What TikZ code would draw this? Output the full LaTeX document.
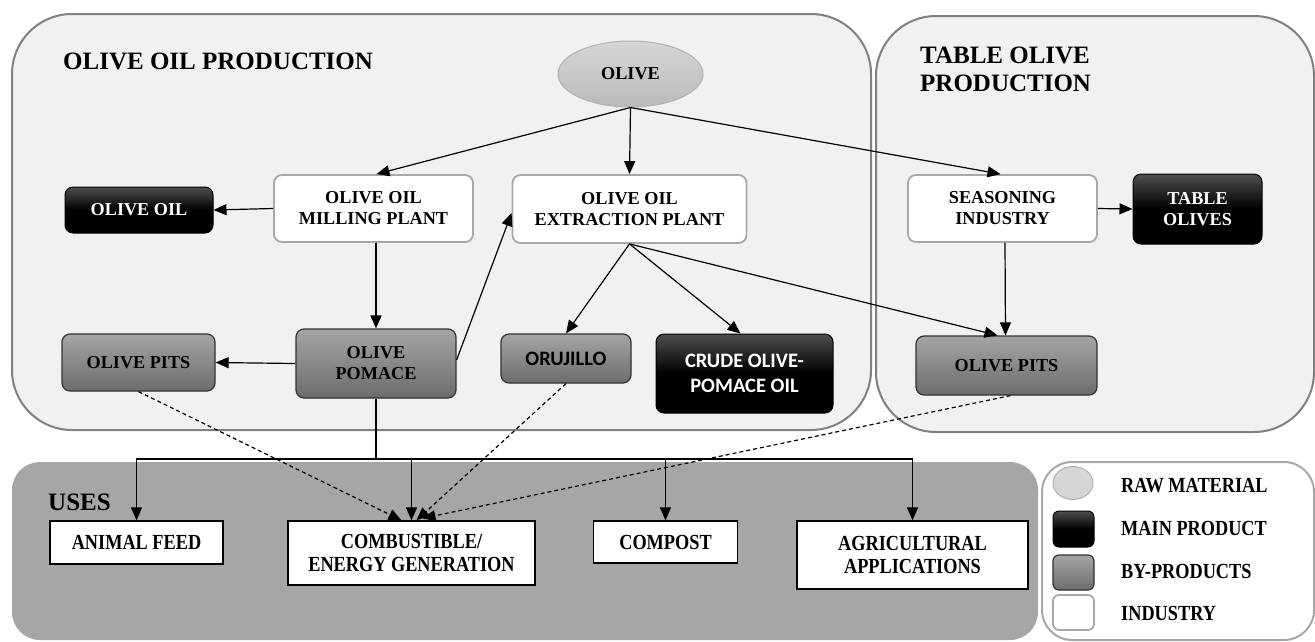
\documentclass[tikz,border=0pt]{standalone}
\usepackage{fontspec}
\setmainfont{Liberation Serif}
\newfontfamily\condserif[FakeStretch=0.85]{Liberation Serif}
\newfontfamily\carlitof{Carlito}
\usetikzlibrary{arrows.meta,shapes.geometric}
\definecolor{contfill}{RGB}{241,241,241}
\definecolor{contdraw}{RGB}{128,128,128}
\definecolor{usesfill}{RGB}{166,166,166}
\definecolor{indgray}{RGB}{168,168,168}
\definecolor{maintop}{RGB}{78,78,78}
\definecolor{bytop}{RGB}{165,165,165}
\definecolor{bybot}{RGB}{108,108,108}
\definecolor{bydraw}{RGB}{50,50,50}
\definecolor{rawtop}{RGB}{214,214,214}
\definecolor{rawbot}{RGB}{186,186,186}
\definecolor{rawdraw}{RGB}{176,176,176}
\newcommand{\boxfnt}{\bfseries\fontsize{18.2}{21}\selectfont}
\newcommand{\sansfnt}{\carlitof\bfseries\fontsize{20.5}{25}\selectfont}
\newcommand{\usefnt}{\condserif\bfseries\fontsize{21.5}{23}\selectfont}
\newcommand{\titlefnt}{\bfseries\fontsize{25}{28}\selectfont}
\tikzset{
  ind/.style={draw=indgray, line width=1.8pt, fill=white, rounded corners=8pt, align=center, font=\boxfnt, inner sep=0pt},
  mainp/.style={draw=black, line width=1pt, top color=maintop, bottom color=black, middle color=black, rounded corners=8pt, align=center, text=white, font=\boxfnt, inner sep=0pt},
  byp/.style={draw=bydraw, line width=1.2pt, top color=bytop, bottom color=bybot, rounded corners=8pt, align=center, font=\boxfnt, inner sep=0pt},
  usebox/.style={draw=black, line width=1.3pt, fill=white, align=center, font=\usefnt, inner sep=0pt},
  arr/.style={line width=1.2pt, -{Triangle[length=13pt,width=11pt]}},
  dasharr/.style={line width=1.2pt, dash pattern=on 4pt off 3pt, -{Triangle[length=13pt,width=11pt]}},
  legtext/.style={anchor=west, font=\usefnt, inner sep=0pt},
  titletext/.style={font=\titlefnt, inner sep=0pt, align=left}
}
\begin{document}
\begin{tikzpicture}[x=1pt,y=-1pt]
\useasboundingbox (0,0) rectangle (1315,641);
% containers
\draw[fill=contfill, draw=contdraw, line width=2pt, rounded corners=60pt] (12,14) rectangle (871,430);
\draw[fill=contfill, draw=contdraw, line width=2pt, rounded corners=60pt] (876,16) rectangle (1314,432);
\fill[usesfill, rounded corners=28pt] (12,462) rectangle (1038,640);
\draw[fill=white, draw=indgray, line width=2pt, rounded corners=30pt] (1042,462) rectangle (1314,640);

% titles
\node[titletext, anchor=west] (t1) at (63,61) {OLIVE OIL PRODUCTION};
\node[titletext, anchor=west] (t2) at (920,69) {TABLE OLIVE\\PRODUCTION};
\node[titletext, anchor=west] (t3) at (48,502) {USES};

% nodes
\node[ellipse, draw=rawdraw, line width=1pt, top color=rawtop, bottom color=rawbot, minimum width=145pt, minimum height=66pt, font=\boxfnt, inner sep=0pt] (olive) at (630.5,74) {OLIVE};
\node[ind, minimum width=199pt, minimum height=67pt] (mill) at (373.5,208.5) {OLIVE OIL\\MILLING PLANT};
\node[ind, minimum width=234pt, minimum height=68pt] (extr) at (629.5,209) {OLIVE OIL\\EXTRACTION PLANT};
\node[ind, minimum width=189pt, minimum height=67pt] (seas) at (1002.5,208.5) {SEASONING\\INDUSTRY};
\node[mainp, minimum width=129pt, minimum height=70pt] (tabol) at (1197.5,209) {TABLE\\OLIVES};
\node[mainp, minimum width=148pt, minimum height=46pt] (oil) at (139,210) {OLIVE OIL};
\node[byp, minimum width=153pt, minimum height=57pt] (pits1) at (138.5,362.5) {OLIVE PITS};
\node[byp, minimum width=160pt, minimum height=69pt] (pom) at (376,363.5) {OLIVE\\POMACE};
\node[byp, minimum width=130pt, minimum height=49pt, font=\sansfnt] (oru) at (566,358.5) {ORUJILLO};
\node[mainp, minimum width=177pt, minimum height=79pt, font=\sansfnt] (crude) at (744.5,373.5) {CRUDE OLIVE-\\POMACE OIL};
\node[byp, minimum width=181pt, minimum height=59pt] (pits2) at (1006.5,365.5) {OLIVE PITS};

% uses
\node[usebox, minimum width=173pt, minimum height=43pt] (feed) at (136.5,542.5) {ANIMAL FEED};
\node[usebox, minimum width=247pt, minimum height=64pt] (comb) at (411.5,553) {COMBUSTIBLE/\\ENERGY GENERATION};
\node[usebox, minimum width=144pt, minimum height=42pt] (comp) at (665.5,542) {COMPOST};
\node[usebox, minimum width=231pt, minimum height=68pt] (agri) at (912.5,555) {AGRICULTURAL\\APPLICATIONS};

% legend
\node[ellipse, draw=rawdraw, line width=1pt, fill=rawtop, minimum width=40pt, minimum height=33pt] (lraw) at (1073,483) {};
\node[mainp, minimum width=41pt, minimum height=36pt, rounded corners=6pt] (lmain) at (1073.5,529) {};
\node[byp, minimum width=41pt, minimum height=35pt, rounded corners=6pt] (lby) at (1073.5,572.5) {};
\node[ind, minimum width=41pt, minimum height=35pt, rounded corners=6pt] (lind) at (1073.5,612.5) {};
\node[legtext] (lrawt) at (1121,486) {RAW MATERIAL};
\node[legtext] (lmaint) at (1121,528) {MAIN PRODUCT};
\node[legtext] (lbyt) at (1121,571) {BY-PRODUCTS};
\node[legtext] (lindt) at (1121,613) {INDUSTRY};

% connectors
\draw[arr] (olive.south) -- ([xshift=3pt]mill.north);
\draw[arr] (olive.south) -- (extr.north);
\draw[arr] (olive.south) -- ([xshift=-2pt]seas.north);
\draw[arr] (mill.west) -- (oil.east);
\draw[arr] (pom.north |- mill.south) -- (pom.north);
\draw[arr] (pom.west) -- (pits1.east);
\draw[arr] ([yshift=3.5pt]pom.east) -- ([yshift=-4pt]extr.west);
\draw[arr] (extr.south) -- (oru.north);
\draw[arr] (extr.south) -- ([xshift=-4pt]crude.north);
\draw[arr] (extr.south) -- ([xshift=-9pt]pits2.north);
\draw[arr] ([xshift=2.5pt]seas.south) -- ([xshift=-1pt]pits2.north);
\draw[arr] (seas.east) -- (tabol.west);

% pomace to uses
\coordinate (bus) at (376,459);
\draw[line width=1.2pt] (pom.south) -- (bus);
\draw[arr] (bus) -| (feed.north);
\draw[arr] (bus) -| (agri.north);
\draw[arr] (comb.north |- bus) -- (comb.north);
\draw[arr] (comp.north |- bus) -- (comp.north);

% dashed to combustible
\draw[dasharr] (pits1.south) -- ([xshift=-10pt]comb.north);
\draw[dasharr] (oru.south) -- ([xshift=5pt]comb.north);
\draw[dasharr] ([xshift=4pt]pits2.south) -- ([xshift=11pt,yshift=2pt]comb.north);
\end{tikzpicture}
\end{document}
